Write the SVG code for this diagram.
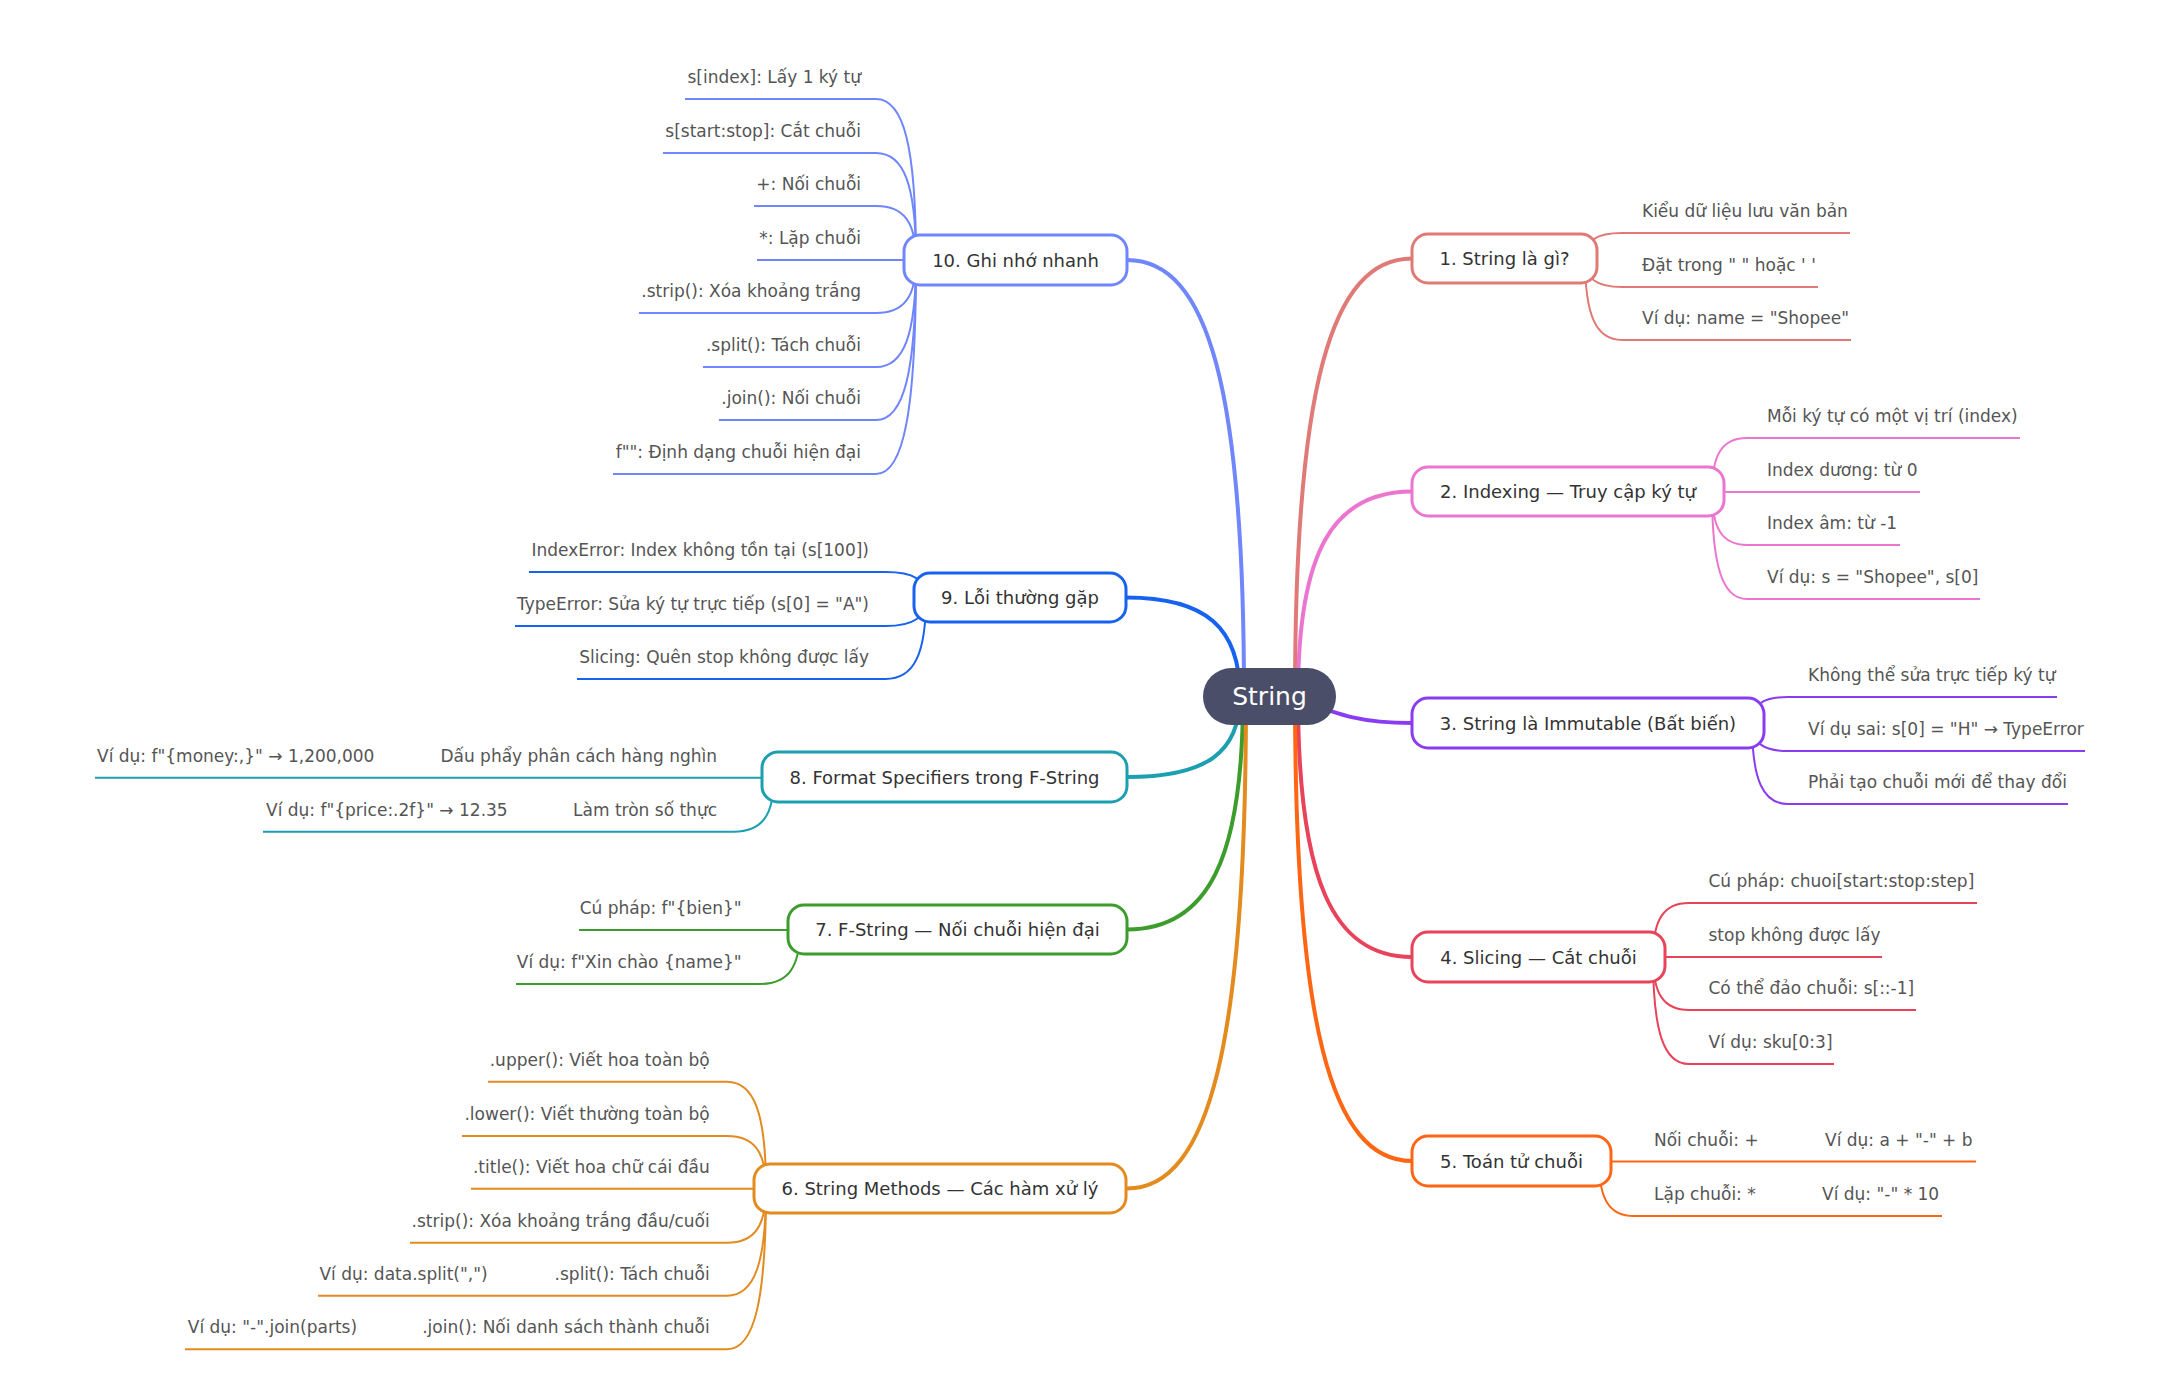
<svg xmlns="http://www.w3.org/2000/svg" width="2181" height="1394" viewBox="0 0 2181 1394">
<style>
text{font-family:"DejaVu Sans","Noto Sans",sans-serif}
.nb{fill:#fff;stroke-width:3}
.nt{font-size:18px;fill:#333;text-anchor:middle}
.ct{font-size:17px;fill:#555}
.r{text-anchor:end}
.l{fill:none;stroke-width:2}
.m{fill:none;stroke-width:4;stroke-linecap:round}
.c1{stroke:#e07a76}.c2{stroke:#ec76cf}.c3{stroke:#8a3cf0}.c4{stroke:#e8435a}.c5{stroke:#ff6614}
.c6{stroke:#e38b1e}.c7{stroke:#3c9c2c}.c8{stroke:#1c9fb0}.c9{stroke:#1763ef}.c10{stroke:#6f86fc}
</style>
<rect width="2181" height="1394" fill="#fff"/>
<g id="connectors">
<!-- root to main nodes -->
<path class="m c10" d="M1244,696 C1244,390.8 1208.9,260 1127,260"/>
<path class="m c9" d="M1240,696 C1240,627.4 1205.8,597.5 1126,597.5"/>
<path class="m c8" d="M1240,696 C1240,752.7 1206.1,777 1127,777"/>
<path class="m c7" d="M1243,696 C1243,859.1 1208.2,929.5 1127,929.5"/>
<path class="m c6" d="M1246,696 C1246,1040.4 1210.3,1188.5 1127,1188.5"/>
<path class="m c1" d="M1295,696 C1295,390.1 1330.1,258.5 1412,258.5"/>
<path class="m c2" d="M1298,696 C1298,552.5 1332.2,491.5 1412,491.5"/>
<path class="m c3" d="M1300,700 C1340,715 1360,723 1412,723"/>
<path class="m c4" d="M1298,696 C1298,878.7 1332.2,957 1412,957"/>
<path class="m c5" d="M1295,696 C1295,1021.5 1330.1,1161 1412,1161"/>
<!-- node 1 children -->
<path class="l c1" d="M1585,258.5 C1585,240.7 1596,233 1622,233 H1850"/>
<path class="l c1" d="M1585,258.5 C1585,278.5 1596,287 1622,287 H1818"/>
<path class="l c1" d="M1585,258.5 C1585,315.6 1596,340 1622,340 H1851"/>
<!-- node 2 children -->
<path class="l c2" d="M1712,491.5 C1712,454 1722.5,438 1747,438 H2020"/>
<path class="l c2" d="M1712,491.5 C1712,491.7 1722.5,492 1747,492 H1920"/>
<path class="l c2" d="M1712,491.5 C1712,529 1722.5,545 1747,545 H1900"/>
<path class="l c2" d="M1712,491.5 C1712,566.7 1722.5,599 1747,599 H1980"/>
<!-- node 3 children -->
<path class="l c3" d="M1752,723 C1752,704.8 1762.8,697 1788,697 H2057"/>
<path class="l c3" d="M1752,723 C1752,742.6 1762.8,751 1788,751 H2085"/>
<path class="l c3" d="M1752,723 C1752,779.7 1762.8,804 1788,804 H2068"/>
<!-- node 4 children -->
<path class="l c4" d="M1653,957 C1653,919.2 1663.8,903 1689,903 H1977"/>
<path class="l c4" d="M1653,957 H1882"/>
<path class="l c4" d="M1653,957 C1653,994.1 1663.8,1010 1689,1010 H1916"/>
<path class="l c4" d="M1653,957 C1653,1031.9 1663.8,1064 1689,1064 H1834"/>
<!-- node 5 children -->
<path class="l c5" d="M1599,1161.5 H1976"/>
<path class="l c5" d="M1599,1161 C1599,1199.5 1609.5,1216 1634,1216 H1942"/>
<!-- node 10 children -->
<path class="l c10" d="M916,260 C916,147.3 904,99 876,99 H685"/>
<path class="l c10" d="M916,260 C916,185.1 904,153 876,153 H663"/>
<path class="l c10" d="M916,260 C916,222.2 904,206 876,206 H754"/>
<path class="l c10" d="M916,260 H757"/>
<path class="l c10" d="M916,260 C916,297.1 904,313 876,313 H639"/>
<path class="l c10" d="M916,260 C916,334.9 904,367 876,367 H703"/>
<path class="l c10" d="M916,260 C916,372 904,420 876,420 H719"/>
<path class="l c10" d="M916,260 C916,409.8 904,474 876,474 H613"/>
<!-- node 9 children -->
<path class="l c9" d="M926,597.5 C926,579.7 913.8,572 885.5,572 H529"/>
<path class="l c9" d="M926,597.5 C926,617.5 913.8,626 885.5,626 H515"/>
<path class="l c9" d="M926,597.5 C926,654.6 913.8,679 885.5,679 H577"/>
<!-- node 8 children -->
<path class="l c8" d="M774,777.7 H95"/>
<path class="l c8" d="M774,777 C774,815.3 762,831.7 734,831.7 H263"/>
<!-- node 7 children -->
<path class="l c7" d="M800,930 H579"/>
<path class="l c7" d="M800,929.5 C800,967.7 787.9,984 759.5,984 H516"/>
<!-- node 6 children -->
<path class="l c6" d="M766,1188.5 C766,1113.7 754.3,1081.7 727,1081.7 H488"/>
<path class="l c6" d="M766,1188.5 C766,1151.8 754.3,1136 727,1136 H462"/>
<path class="l c6" d="M766,1188.7 H471"/>
<path class="l c6" d="M766,1188.5 C766,1226.4 754.3,1242.7 727,1242.7 H410"/>
<path class="l c6" d="M766,1188.5 C766,1263.5 754.3,1295.7 727,1295.7 H318"/>
<path class="l c6" d="M766,1188.5 C766,1301.1 754.3,1349.3 727,1349.3 H185"/>
</g>

<g id="root">
<rect x="1203" y="668" width="133" height="57" rx="28.5" fill="#4a4e69"/>
<text x="1269.5" y="705" font-size="25" fill="#fff" text-anchor="middle">String</text>
</g>

<g id="node-1">
<rect class="nb c1" x="1412" y="234" width="185" height="49" rx="16"/>
<text class="nt" x="1504.5" y="265">1. String là gì?</text>
</g>
<g id="node-1-children" class="ct">
<text x="1642" y="217">Kiểu dữ liệu lưu văn bản</text>
<text x="1642" y="271">Đặt trong " " hoặc ' '</text>
<text x="1642" y="324">Ví dụ: name = "Shopee"</text>
</g>

<g id="node-2">
<rect class="nb c2" x="1412" y="467" width="312" height="49" rx="16"/>
<text class="nt" x="1568" y="498">2. Indexing — Truy cập ký tự</text>
</g>
<g id="node-2-children" class="ct">
<text x="1767" y="422">Mỗi ký tự có một vị trí (index)</text>
<text x="1767" y="476">Index dương: từ 0</text>
<text x="1767" y="529">Index âm: từ -1</text>
<text x="1767" y="583">Ví dụ: s = "Shopee", s[0]</text>
</g>

<g id="node-3">
<rect class="nb c3" x="1412" y="698" width="352" height="50" rx="16"/>
<text class="nt" x="1588" y="729.5">3. String là Immutable (Bất biến)</text>
</g>
<g id="node-3-children" class="ct">
<text x="1808" y="681">Không thể sửa trực tiếp ký tự</text>
<text x="1808" y="735">Ví dụ sai: s[0] = "H" → TypeError</text>
<text x="1808" y="788">Phải tạo chuỗi mới để thay đổi</text>
</g>

<g id="node-4">
<rect class="nb c4" x="1412" y="932" width="253" height="50" rx="16"/>
<text class="nt" x="1538.5" y="963.5">4. Slicing — Cắt chuỗi</text>
</g>
<g id="node-4-children" class="ct">
<text x="1708.5" y="887">Cú pháp: chuoi[start:stop:step]</text>
<text x="1708.5" y="941">stop không được lấy</text>
<text x="1708.5" y="994">Có thể đảo chuỗi: s[::-1]</text>
<text x="1708.5" y="1048">Ví dụ: sku[0:3]</text>
</g>

<g id="node-5">
<rect class="nb c5" x="1412" y="1136" width="199" height="50" rx="16"/>
<text class="nt" x="1511.5" y="1167.5">5. Toán tử chuỗi</text>
</g>
<g id="node-5-children" class="ct">
<text x="1654" y="1146">Nối chuỗi: +</text>
<text x="1825" y="1146">Ví dụ: a + "-" + b</text>
<text x="1654" y="1200">Lặp chuỗi: *</text>
<text x="1822" y="1200">Ví dụ: "-" * 10</text>
</g>

<g id="node-6">
<rect class="nb c6" x="754" y="1164" width="372" height="49" rx="16"/>
<text class="nt" x="940" y="1195">6. String Methods — Các hàm xử lý</text>
</g>
<g id="node-6-children" class="ct">
<text class="r" x="709.7" y="1065.7">.upper(): Viết hoa toàn bộ</text>
<text class="r" x="709.7" y="1120">.lower(): Viết thường toàn bộ</text>
<text class="r" x="709.7" y="1172.7">.title(): Viết hoa chữ cái đầu</text>
<text class="r" x="709.7" y="1226.7">.strip(): Xóa khoảng trắng đầu/cuối</text>
<text class="r" x="709.7" y="1279.7">.split(): Tách chuỗi</text>
<text x="319.4" y="1279.7">Ví dụ: data.split(",")</text>
<text class="r" x="709.7" y="1333.3">.join(): Nối danh sách thành chuỗi</text>
<text x="187.8" y="1333.3">Ví dụ: "-".join(parts)</text>
</g>

<g id="node-7">
<rect class="nb c7" x="788" y="905" width="339" height="49" rx="16"/>
<text class="nt" x="957.5" y="936">7. F-String — Nối chuỗi hiện đại</text>
</g>
<g id="node-7-children" class="ct">
<text class="r" x="741.6" y="914">Cú pháp: f"{bien}"</text>
<text class="r" x="741.6" y="968">Ví dụ: f"Xin chào {name}"</text>
</g>

<g id="node-8">
<rect class="nb c8" x="762" y="752" width="365" height="50" rx="16"/>
<text class="nt" x="944.5" y="783.5">8. Format Specifiers trong F-String</text>
</g>
<g id="node-8-children" class="ct">
<text class="r" x="717" y="761.7">Dấu phẩy phân cách hàng nghìn</text>
<text x="97" y="761.7">Ví dụ: f"{money:,}" → 1,200,000</text>
<text class="r" x="717" y="815.7">Làm tròn số thực</text>
<text x="266" y="815.7">Ví dụ: f"{price:.2f}" → 12.35</text>
</g>

<g id="node-9">
<rect class="nb c9" x="914" y="573" width="212" height="49" rx="16"/>
<text class="nt" x="1020" y="604">9. Lỗi thường gặp</text>
</g>
<g id="node-9-children" class="ct">
<text class="r" x="869" y="556">IndexError: Index không tồn tại (s[100])</text>
<text class="r" x="869" y="610">TypeError: Sửa ký tự trực tiếp (s[0] = "A")</text>
<text class="r" x="869" y="663">Slicing: Quên stop không được lấy</text>
</g>

<g id="node-10">
<rect class="nb c10" x="904" y="235" width="223" height="50" rx="16"/>
<text class="nt" x="1015.5" y="266.5">10. Ghi nhớ nhanh</text>
</g>
<g id="node-10-children" class="ct">
<text class="r" x="861" y="83">s[index]: Lấy 1 ký tự</text>
<text class="r" x="861" y="137">s[start:stop]: Cắt chuỗi</text>
<text class="r" x="861" y="190">+: Nối chuỗi</text>
<text class="r" x="861" y="244">*: Lặp chuỗi</text>
<text class="r" x="861" y="297">.strip(): Xóa khoảng trắng</text>
<text class="r" x="861" y="351">.split(): Tách chuỗi</text>
<text class="r" x="861" y="404">.join(): Nối chuỗi</text>
<text class="r" x="861" y="458">f"": Định dạng chuỗi hiện đại</text>
</g>
</svg>
